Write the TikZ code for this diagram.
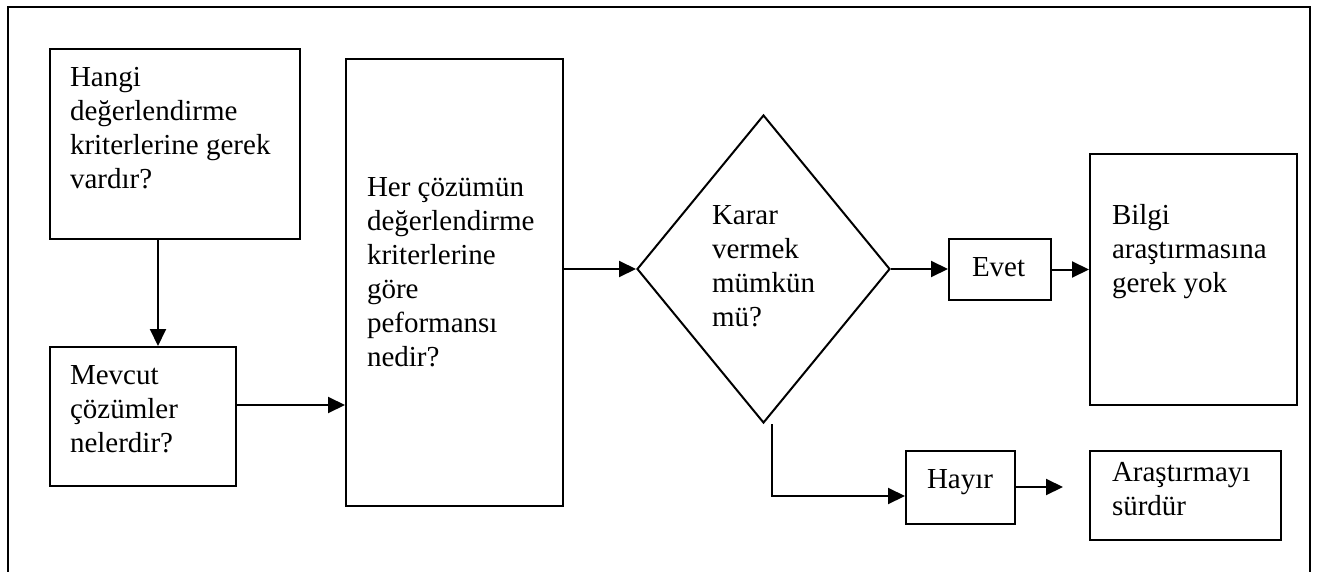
\documentclass[tikz,border=0pt]{standalone}
\usepackage{fontspec}
\setmainfont{Liberation Serif}
\usetikzlibrary{arrows.meta,shapes.geometric,calc}
\begin{document}
\begin{tikzpicture}[x=1pt,y=-1pt,
  line width=2pt,
  box/.style={draw, rectangle, inner sep=0pt},
  % multi-line labels: the base anchor sits on the last line
  txt/.style={anchor=base west, align=left, inner sep=0pt,
              font=\fontsize{29}{34}\selectfont},
  arr/.style={-{Triangle[length=17pt,width=16pt]}}]
\useasboundingbox (0,0) rectangle (1319,572);
% open frame around the chart
\draw (8,572) -- (8,7) -- (1310,7) -- (1310,572);

% boxes
\node[box, minimum width=250pt, minimum height=190pt] (b1) at (175,144) {};
\node[box, minimum width=186pt, minimum height=139pt] (b2) at (143,416.5) {};
\node[box, minimum width=217pt, minimum height=447pt] (b3) at (454.5,282.5) {};
\node[draw, diamond, inner sep=0pt, minimum width=253pt, minimum height=308pt] (d) at (763.5,269) {};
\node[box, minimum width=102pt, minimum height=61pt] (e) at (1000,269.5) {};
\node[box, minimum width=207pt, minimum height=251pt] (f) at (1193.5,279.5) {};
\node[box, minimum width=109pt, minimum height=73pt] (h) at (960.5,487.5) {};
\node[box, minimum width=191pt, minimum height=89pt] (a) at (1185.5,495.5) {};

% texts
\node[txt] (t1) at ($(b1.north west)+(20,141)$) {Hangi\\değerlendirme\\kriterlerine gerek\\vardır?};
\node[txt] (t2) at ($(b2.north west)+(20,106)$) {Mevcut\\çözümler\\nelerdir?};
\node[txt] (t3) at ($(b3.north west)+(21,308)$) {Her çözümün\\değerlendirme\\kriterlerine\\göre\\peformansı\\nedir?};
\node[txt] (t4) at ($(d.west)+(75,57)$) {Karar\\vermek\\mümkün\\mü?};
\node[txt] (t5) at ($(e.north west)+(23,38)$) {Evet};
\node[txt] (t6) at ($(f.north west)+(22,139)$) {Bilgi\\araştırmasına\\gerek yok};
\node[txt] (t7) at ($(h.north west)+(21,38)$) {Hayır};
\node[txt] (t8) at ($(a.north west)+(22,65)$) {Araştırmayı\\sürdür};

% connectors
\coordinate (c1) at (158,0);
\coordinate (c2) at (0,405);
\coordinate (c3) at (772,0);
\coordinate (c4) at (0,496);
\coordinate (hend) at (1063,487);
\draw[arr] (b1.south -| c1) -- (b2.north -| c1);
\draw[arr] (b2.east |- c2) -- (b3.west |- c2);
\draw[arr] (b3.east |- d.west) -- (d.west);
\draw[arr] (d.east) -- (e.west |- d.east);
\draw[arr] (e.east) -- (f.west |- e.east);
\draw[arr] (d.south -| c3) |- (h.west |- c4);
\draw[arr] (h.east |- hend) -- (hend);
\end{tikzpicture}
\end{document}
